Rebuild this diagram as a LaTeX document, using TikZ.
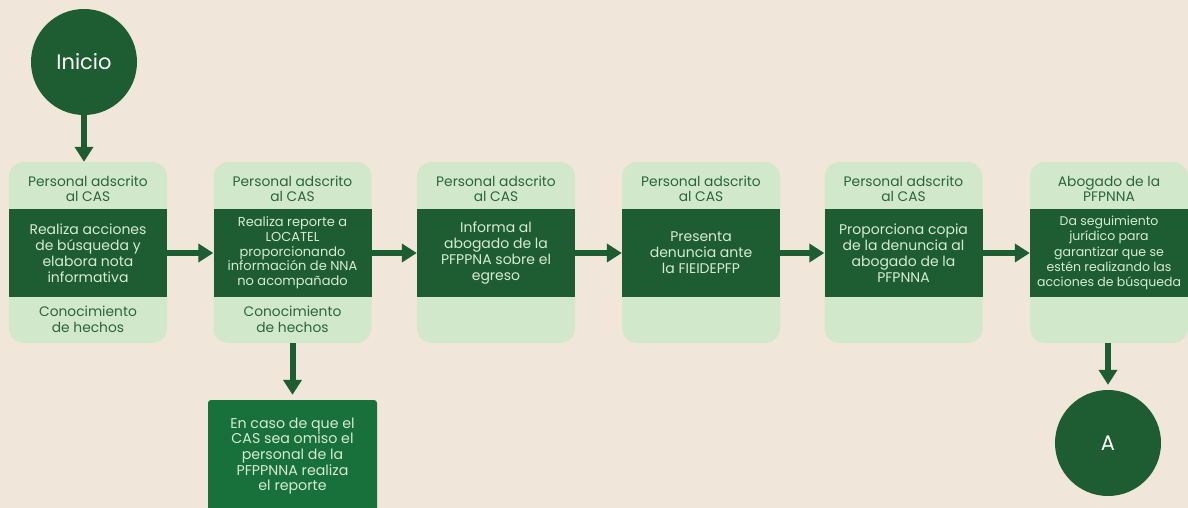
\documentclass[tikz,border=0pt]{standalone}
\usepackage{fontspec}
\setmainfont{Poppins}
\usetikzlibrary{positioning,arrows.meta}
\definecolor{bgbeige}{HTML}{F0E6D9}
\definecolor{lanegreen}{HTML}{D2E8CB}
\definecolor{bandgreen}{HTML}{1E5D32}
\definecolor{notegreen}{HTML}{18703A}
\definecolor{headtext}{HTML}{2A663A}
\definecolor{bandtext}{HTML}{D6ECD0}

\begin{document}
\begin{tikzpicture}[x=1pt,y=-1pt,
	lane/.style={fill=lanegreen,rounded corners=15pt,minimum width=158pt,minimum height=181pt},
	band/.style={fill=bandgreen,text=bandtext,minimum width=158pt,minimum height=88pt,align=center,font=\fontsize{14}{16}\selectfont},
	smallband/.style={band,font=\fontsize{13}{14.7}\selectfont},
	head/.style={text=headtext,align=center,font=\fontsize{13.8}{15.5}\selectfont},
	endpt/.style={circle,fill=bandgreen,text=white,minimum size=106pt,font=\fontsize{21}{24}\selectfont},
	note/.style={fill=notegreen,text=bandtext,rounded corners=3pt,minimum width=169pt,minimum height=112pt,align=center,font=\fontsize{14.2}{15.7}\selectfont},
	flow/.style={draw=bandgreen,line width=6pt,-{Triangle[width=18pt,length=15pt]}}]
			\tikzstyle{every node}+=[inner sep=0pt]
			\fill [bgbeige] (0,0) rectangle (1188,508);
			\useasboundingbox (0,0) rectangle (1188,508);
			% start and end
			\node [endpt] (start) at (84,62) {Inicio};
			\node [endpt] (stop) at (1108,443) {A};
			% lanes
			\node [lane] (l1) at (88,252.5) {};
			\node [lane] (l2) at (292.5,252.5) {};
			\node [lane] (l3) at (496,252.5) {};
			\node [lane] (l4) at (701,252.5) {};
			\node [lane] (l5) at (903.5,252.5) {};
			\node [lane] (l6) at (1109,252.5) {};
			\node [head] (h1) at (88,189) {Personal adscrito\\al CAS};
			\node [head] (h2) at (292.5,189) {Personal adscrito\\al CAS};
			\node [head] (h3) at (496,189) {Personal adscrito\\al CAS};
			\node [head] (h4) at (701,189) {Personal adscrito\\al CAS};
			\node [head] (h5) at (903.5,189) {Personal adscrito\\al CAS};
			\node [head] (h6) at (1109,189) {Abogado de la\\PFPNNA};
			\node [band] (b1) at (88,253) {Realiza acciones\\de búsqueda y\\elabora nota\\informativa};
			\node [smallband] (b2) at (292.5,253) {Realiza reporte a\\LOCATEL\\proporcionando\\información de NNA\\no acompañado};
			\node [band] (b3) at (496,253) {Informa al\\abogado de la\\PFPPNA sobre el\\egreso};
			\node [band] (b4) at (701,253) {Presenta\\denuncia ante\\la FIEIDEPFP};
			\node [band] (b5) at (903.5,253) {Proporciona copia\\de la denuncia al\\abogado de la\\PFPNNA};
			\node [smallband,font=\fontsize{12.5}{15.2}\selectfont] (b6) at (1109,253) {Da seguimiento\\jurídico para\\garantizar que se\\estén realizando las\\acciones de búsqueda};
			\node [head] (f1) at (88,319.5) {Conocimiento\\de hechos};
			\node [head] (f2) at (292.5,319.5) {Conocimiento\\de hechos};
			% side note
			\node [note] (n1) at (292.5,456) {En caso de que el\\CAS sea omiso el\\personal de la\\PFPPNNA realiza\\el reporte};
			% connectors
			\draw [flow] (start.south) -- (start.south |- l1.north);
			\draw [flow] (b1.east) -- (b2.west);
			\draw [flow] (b2.east) -- (b3.west);
			\draw [flow] (b3.east) -- (b4.west);
			\draw [flow] (b4.east) -- (b5.west);
			\draw [flow] (b5.east) -- (b6.west);
			\draw [flow,shorten >=5pt] (l2.south) -- (n1.north);
			\draw [flow,shorten >=5pt] (l6.south -| stop) -- (stop.north);
\end{tikzpicture}
\end{document}
